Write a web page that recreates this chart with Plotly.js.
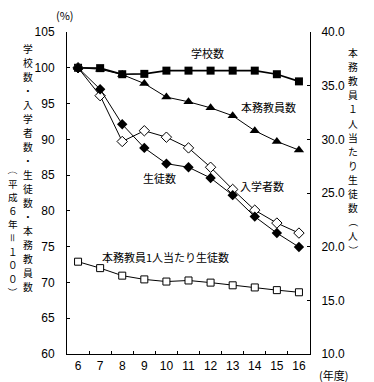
<!DOCTYPE html>
<html>
<head>
<meta charset="utf-8">
<script src="https://cdn.plot.ly/plotly-3.0.1.min.js"></script>
<style>html,body{margin:0;padding:0;background:#fff;}#chart{width:374px;height:382px;}</style>
</head>
<body>
<div id="chart"></div>
<script>
// Years (平成)
var years = ['6','7','8','9','10','11','12','13','14','15','16'];
// Index values (平成6年=100), left axis
var schools  = [100, 99.95, 99.1, 99.15, 99.6, 99.6, 99.6, 99.6, 99.6, 99.1, 98.1];
var teachers = [100, 99.8, 99.05, 97.8, 95.9, 95.25, 94.4, 93.3, 91.2, 89.7, 88.5];
var students = [100, 97.0, 92.1, 88.8, 86.6, 86.1, 84.6, 82.2, 79.2, 76.9, 74.95];
var entrants = [100, 96.1, 89.7, 91.2, 90.3, 88.8, 86.1, 83.0, 80.1, 78.3, 76.9];
// Students per teacher (人), right axis
var perTeacher = [18.6, 18.0, 17.3, 16.95, 16.75, 16.85, 16.65, 16.4, 16.2, 15.95, 15.75];

// Axis titles (written vertically)
var leftTitle1 = '学校数・入学者数・生徒数・本務教員数';
var leftTitle2 = '（平成６年＝１００）';
var rightTitle = '本務教員１人当たり生徒数（人）';

var jp = 'Noto Sans CJK JP, sans-serif';
var num = 'Liberation Sans Narrow, Liberation Sans, Arial, sans-serif';

var traces = [
  {x: years, y: schools, name: '学校数', type: 'scatter', mode: 'lines+markers',
   line: {color: '#000', width: 1.6}, marker: {symbol: 'square', size: 8, color: '#000'}},
  {x: years, y: teachers, name: '本務教員数', type: 'scatter', mode: 'lines+markers',
   line: {color: '#000', width: 1}, marker: {symbol: 'triangle-up', size: 9, color: '#000'}},
  {x: years, y: entrants, name: '入学者数', type: 'scatter', mode: 'lines+markers',
   line: {color: '#000', width: 1}, marker: {symbol: 'diamond', size: 8, color: '#fff', line: {color: '#000', width: 1}}},
  {x: years, y: students, name: '生徒数', type: 'scatter', mode: 'lines+markers',
   line: {color: '#000', width: 1}, marker: {symbol: 'diamond', size: 8, color: '#000'}},
  {x: years, y: perTeacher, name: '本務教員1人当たり生徒数', type: 'scatter', mode: 'lines+markers', yaxis: 'y2',
   line: {color: '#000', width: 1}, marker: {symbol: 'square', size: 7, color: '#fff', line: {color: '#000', width: 1}}}
];

var W = 243, H = 322, L = 67, B = 354;
function px(x){ return (x - L) / W; }
function py(y){ return (B - y) / H; }

function ann(text, x, y, opts){
  var a = {text: text, x: px(x), y: py(y), xref: 'paper', yref: 'paper', showarrow: false,
           xanchor: 'center', yanchor: 'middle', font: {family: jp, size: 11, color: '#000'}};
  for (var k in opts) a[k] = opts[k];
  return a;
}

// vertical text: one annotation per character; brackets and equals turned 90°
var ROTATE = '（）＝';
function vertical(s, x, yTop, step, size, list){
  Array.from(s).forEach(function(ch, i){
    var o = {font: {family: jp, size: size, color: '#000'}};
    if (ROTATE.indexOf(ch) >= 0) o.textangle = 90;
    list.push(ann(ch, x, yTop + i * step, o));
  });
}

var annotations = [
  ann('(%)', 65, 15),
  ann('(年度)', 333, 375),
  ann('学校数', 207, 53),
  ann('本務教員数', 268, 107),
  ann('生徒数', 159, 178),
  ann('入学者数', 262, 186),
  ann('本務教員1人当たり生徒数', 165, 257)
];
vertical(leftTitle1, 28, 49, 14, 9.8, annotations);
vertical(leftTitle2, 13, 170, 13.6, 9.6, annotations);
vertical(rightTitle, 353, 53, 14.1, 9.8, annotations);

var layout = {
  width: 374, height: 382,
  margin: {l: 67, r: 64, t: 32, b: 28},
  paper_bgcolor: '#fff', plot_bgcolor: '#fff',
  showlegend: false,
  font: {family: num, size: 12, color: '#000'},
  xaxis: {type: 'category', range: [-0.5, 10.5], tickson: 'boundaries', tickangle: 0,
          ticks: 'inside', ticklen: 3, tickcolor: '#000', showline: true, linecolor: '#000', linewidth: 1,
          showgrid: false, zeroline: false, ticklabelstandoff: 1,
          tickfont: {family: num, size: 12}},
  yaxis: {range: [60, 105], dtick: 5, tick0: 60, ticks: 'inside', ticklen: 3, tickcolor: '#000',
          showline: true, linecolor: '#000', linewidth: 1, showgrid: false, zeroline: false,
          ticklabelstandoff: 9, tickfont: {family: num, size: 12}},
  yaxis2: {range: [10, 40], dtick: 5, tick0: 10, tickformat: '.1f', overlaying: 'y', side: 'right',
           ticks: 'inside', ticklen: 3, tickcolor: '#000', showline: true, linecolor: '#000', linewidth: 1,
           showgrid: false, zeroline: false, ticklabelstandoff: 8, tickfont: {family: num, size: 12}},
  annotations: annotations
};

Plotly.newPlot('chart', traces, layout, {displayModeBar: false, staticPlot: true});
</script>
</body>
</html>
